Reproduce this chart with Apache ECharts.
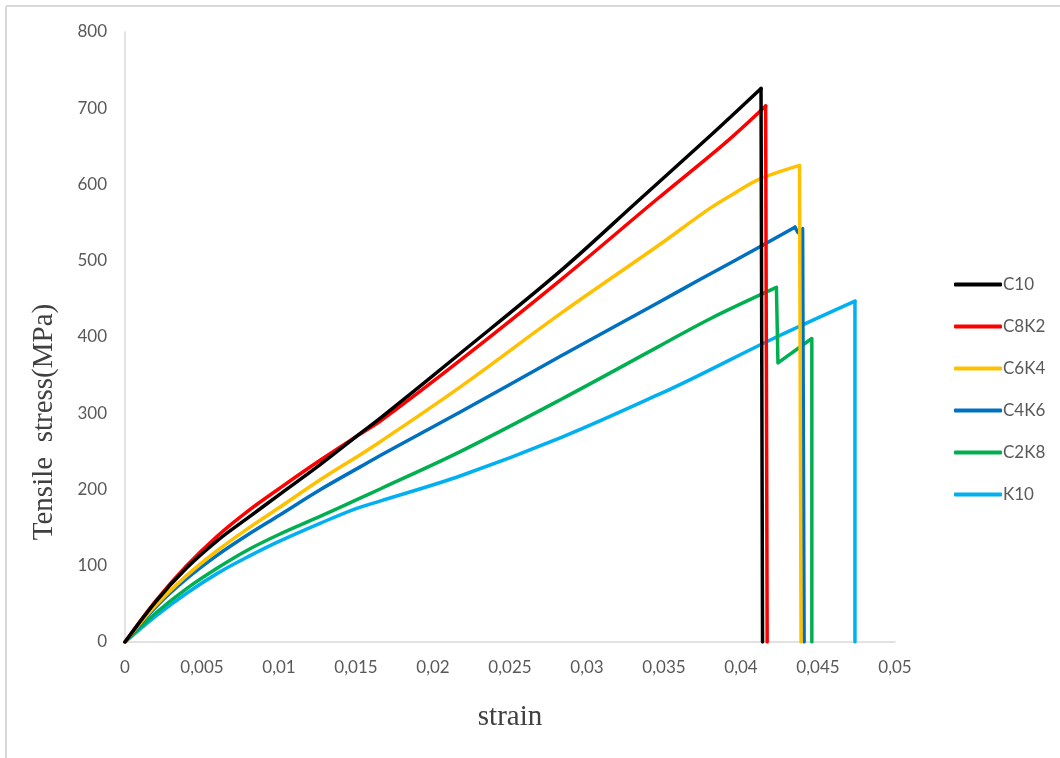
<!DOCTYPE html>
<html>
<head>
<meta charset="utf-8">
<title>Tensile stress vs strain</title>
<script src="https://cdn.jsdelivr.net/npm/echarts@6/dist/echarts.min.js"></script>
<style>
  html, body { margin: 0; padding: 0; background: #ffffff; }
  #chart { width: 1060px; height: 758px; }
</style>
</head>
<body>
<div id="chart"></div>
<script>
// Stress–strain curves of the hybrid laminates: [strain, tensile stress (MPa)].
// Each specimen has a smooth loading branch and a straight failure branch.
const seriesNames = ['C10', 'C8K2', 'C6K4', 'C4K6', 'C2K8', 'K10'];

const c10Load = [
  [0, 0], [0.002, 53], [0.004, 97], [0.006, 133], [0.008, 163], [0.010, 193],
  [0.0125, 230], [0.0153, 274], [0.0166, 294], [0.0218, 379], [0.0283, 487],
  [0.0334, 580], [0.0380, 664], [0.0413, 726]
];
const c10Fail = [[0.0413, 726], [0.0414, 0]];

const c8k2Load = [
  [0, 0], [0.002, 54], [0.004, 100], [0.006, 139], [0.008, 172], [0.010, 201],
  [0.0125, 236], [0.0153, 273], [0.0166, 290], [0.0218, 370], [0.0283, 475],
  [0.0345, 580], [0.0390, 655], [0.0416, 703]
];
const c8k2Fail = [[0.0416, 703], [0.0417, 0]];

const c6k4Load = [
  [0, 0], [0.002, 48], [0.004, 87], [0.006, 120], [0.008, 149], [0.010, 176],
  [0.0127, 213], [0.0153, 246], [0.0166, 263], [0.0218, 335], [0.0283, 431],
  [0.0347, 521], [0.0380, 569], [0.0397, 590], [0.0412, 607], [0.0438, 625]
];
const c6k4Fail = [[0.0438, 625], [0.0439, 0]];

const c4k6Load = [
  [0, 0], [0.002, 46], [0.004, 83], [0.006, 114], [0.008, 141], [0.010, 166],
  [0.0127, 200], [0.0153, 230], [0.0166, 245], [0.0218, 302], [0.0283, 375],
  [0.0347, 446], [0.0373, 475], [0.0412, 518], [0.0435, 544]
];
const c4k6Fail = [[0.0435, 544], [0.0437, 537], [0.0440, 542], [0.0441, 0]];

const c2k8Load = [
  [0, 0], [0.002, 38], [0.004, 70], [0.006, 97], [0.008, 121], [0.010, 141],
  [0.0127, 165], [0.0153, 189], [0.0166, 201], [0.0218, 250], [0.0283, 318],
  [0.0347, 388], [0.0380, 424], [0.0423, 465]
];
const c2k8Fail = [[0.0423, 465], [0.0424, 366], [0.0446, 398], [0.0446, 0]];

const k10Load = [
  [0, 0], [0.002, 34], [0.004, 64], [0.006, 90], [0.008, 112], [0.010, 132],
  [0.0127, 156], [0.015, 175], [0.0166, 185], [0.0218, 218], [0.0283, 268],
  [0.0347, 325], [0.0373, 350], [0.0420, 397], [0.0474, 447]
];
const k10Fail = [[0.0474, 447], [0.0474, 0]];

const seriesColors = ['#000000', '#ff0000', '#ffc000', '#0070c0', '#00b050', '#00b0f0'];

// Axis tick labels (decimal comma)
const xTickLabels = ['0', '0,005', '0,01', '0,015', '0,02', '0,025', '0,03', '0,035', '0,04', '0,045', '0,05'];
const yTickLabels = ['0', '100', '200', '300', '400', '500', '600', '700', '800'];

const xTitle = 'strain';
const yTitle = 'Tensile  stress(MPa)';

const loadBranches = [c10Load, c8k2Load, c6k4Load, c4k6Load, c2k8Load, k10Load];
const failBranches = [c10Fail, c8k2Fail, c6k4Fail, c4k6Fail, c2k8Fail, k10Fail];

const chart = echarts.init(document.getElementById('chart'), null, { renderer: 'canvas' });

const tickFont = 'Lato, "Open Sans", sans-serif';
const titleFont = '"Liberation Serif", "DejaVu Serif", serif';

const series = [];
seriesNames.forEach((name, i) => {
  const common = {
    name: name,
    type: 'line',
    showSymbol: false,
    symbol: 'none',
    color: seriesColors[i],
    lineStyle: { color: seriesColors[i], width: 3.5, join: 'round', cap: 'round' },
    z: 10 - i
  };
  series.push(Object.assign({}, common, { data: loadBranches[i], smooth: 0.35 }));
  series.push(Object.assign({}, common, { data: failBranches[i], smooth: false }));
});

chart.setOption({
  backgroundColor: '#ffffff',
  animation: false,
  grid: { left: 125, right: 165, top: 32, bottom: 116, outerBoundsMode: 'none' },
  xAxis: {
    type: 'value',
    min: 0,
    max: 0.05,
    interval: 0.005,
    name: xTitle,
    nameLocation: 'middle',
    nameGap: 61,
    nameTextStyle: { fontFamily: titleFont, fontSize: 29, color: '#404040' },
    axisLine: { show: true, lineStyle: { color: '#d9d9d9', width: 1.5 } },
    axisTick: { show: false },
    splitLine: { show: false },
    axisLabel: {
      margin: 17,
      color: '#595959',
      fontFamily: tickFont,
      fontSize: 17,
      formatter: v => xTickLabels[Math.round(v / 0.005)]
    }
  },
  yAxis: {
    type: 'value',
    min: 0,
    max: 800,
    interval: 100,
    axisLine: { show: true, lineStyle: { color: '#d9d9d9', width: 1.5 } },
    axisTick: { show: false },
    splitLine: { show: false },
    axisLabel: {
      margin: 18,
      color: '#595959',
      fontFamily: tickFont,
      fontSize: 17,
      formatter: v => yTickLabels[Math.round(v / 100)]
    }
  },
  legend: {
    orient: 'vertical',
    left: 949,
    top: 271,
    icon: 'roundRect',
    itemWidth: 48,
    itemHeight: 4,
    itemGap: 25,
    data: seriesNames,
    textStyle: { color: '#595959', fontFamily: tickFont, fontSize: 17, lineHeight: 17, padding: [0, 0, 0, -4] }
  },
  graphic: [
    {
      type: 'line',
      shape: { x1: 6, y1: 6, x2: 1060, y2: 6 },
      style: { stroke: '#d9d9d9', lineWidth: 2 },
      silent: true
    },
    {
      type: 'line',
      shape: { x1: 6, y1: 6, x2: 6, y2: 758 },
      style: { stroke: '#d9d9d9', lineWidth: 2 },
      silent: true
    },
    {
      type: 'text',
      x: 44,
      y: 422,
      rotation: Math.PI / 2,
      style: {
        text: yTitle,
        fill: '#404040',
        font: '29px ' + titleFont,
        textAlign: 'center',
        textVerticalAlign: 'middle'
      },
      silent: true
    }
  ],
  series: series
});
</script>
</body>
</html>
